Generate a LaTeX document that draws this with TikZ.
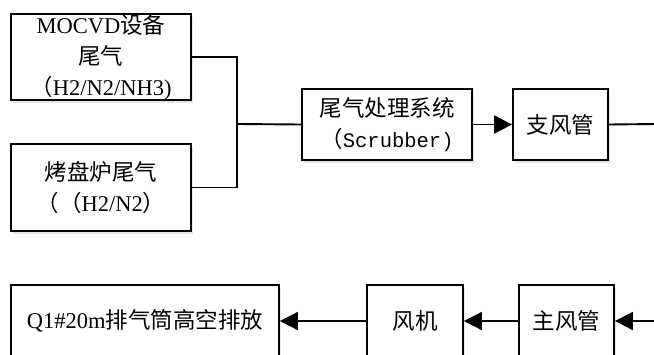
\documentclass[tikz,border=0pt]{standalone}
\usepackage{fontspec}
\setmainfont{Liberation Serif}
\newfontfamily\cjk{Noto Sans CJK SC}
\newfontfamily\monof{Liberation Mono}
\usetikzlibrary{arrows.meta,shadows}
\begin{document}
\begin{tikzpicture}[x=1pt,y=-1pt,
  box/.style={draw, line width=1.8pt, fill=white, inner sep=0pt, align=center,
    font=\fontsize{22.5}{31}\selectfont,
    drop shadow={shadow xshift=1.5pt, shadow yshift=-3pt, fill=black, opacity=0.10}},
  conn/.style={line width=1.9pt},
  arr/.style={line width=1.9pt, -{Triangle[length=18pt,width=18pt]}}]
\useasboundingbox (0,0) rectangle (654,354);
\clip (0,0) rectangle (654,354);
% top row
\node[box, minimum width=180pt, minimum height=86pt] (mocvd) at (101,57)
  {MOCVD{\cjk 设备}\\{\cjk 尾气}\\{\cjk （}H2/N2/NH3)};
\node[box, minimum width=180pt, minimum height=87pt] (kaopan) at (101,187.5)
  {{\cjk 烤盘炉尾气}\\{\cjk （（}H2/N2{\cjk ）}};
\node[box, minimum width=170pt, minimum height=71pt] (scrub) at (387,124.5)
  {{\cjk 尾气处理系统}\\{\cjk （}{\monof\fontsize{20.5}{31}\selectfont Scrubber)}};
\node[box, minimum width=95pt, minimum height=71pt] (zhi) at (560.5,124.5)
  {{\cjk 支风管}};
% bottom row
\node[box, minimum width=268pt, minimum height=72pt] (q1) at (145,321)
  {Q1\#20m{\cjk 排气筒高空排放}};
\node[box, minimum width=96pt, minimum height=72pt] (fengji) at (415,321)
  {{\cjk 风机}};
\node[box, minimum width=95pt, minimum height=72pt] (zhu) at (566.5,321)
  {{\cjk 主风管}};
% connectors
\coordinate (j) at (237,124);
\coordinate (outR) at (656,124);
\coordinate (inR) at (656,321);
\draw[conn] (mocvd.east) -| (j);
\draw[conn] (kaopan.east) -| (j);
\draw[conn] (j) -- (scrub.west);
\draw[arr] (scrub.east) -- (zhi.west);
\draw[conn] (zhi.east) -- (outR);
\draw[arr] (inR) -- (zhu.east);
\draw[arr] (zhu.west) -- (fengji.east);
\draw[arr] (fengji.west) -- (q1.east);
\end{tikzpicture}
\end{document}
